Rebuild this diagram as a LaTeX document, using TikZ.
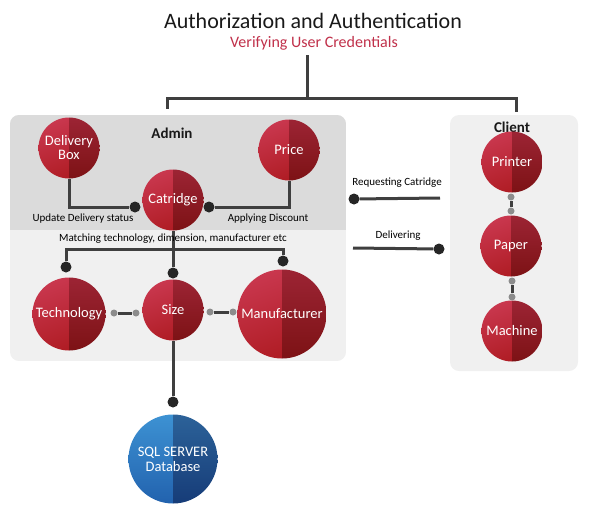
\documentclass[tikz,border=0pt]{standalone}
\usepackage{fontspec}
\setmainfont{Carlito}
\definecolor{lnc}{HTML}{3F3F3F}
\definecolor{dotc}{HTML}{262626}
\definecolor{gdotc}{HTML}{8C8C8C}
\definecolor{panelA}{HTML}{DBDBDB}
\definecolor{panelB}{HTML}{F0F0F0}
\definecolor{subred}{HTML}{C0304A}
\definecolor{rLt}{HTML}{C9374E}
\definecolor{rLb}{HTML}{AE1B22}
\definecolor{rRt}{HTML}{9C2434}
\definecolor{rRb}{HTML}{7D1215}
\definecolor{bLt}{HTML}{3D92D3}
\definecolor{bLb}{HTML}{2262AE}
\definecolor{bRt}{HTML}{2C6299}
\definecolor{bRb}{HTML}{163C78}
\tikzset{
  ball/.style={circle, inner sep=0pt, minimum size=#1,
    path picture={
      \shade[top color=rLt, bottom color=rLb, shading angle=20]
        (path picture bounding box.south west) rectangle (path picture bounding box.north);
      \shade[top color=rRt, bottom color=rRb]
        (path picture bounding box.north) rectangle (path picture bounding box.south east);
    }},
  bball/.style={circle, inner sep=0pt, minimum size=#1,
    path picture={
      \shade[top color=bLt, bottom color=bLb]
        (path picture bounding box.south west) rectangle (path picture bounding box.north);
      \shade[top color=bRt, bottom color=bRb]
        (path picture bounding box.north) rectangle (path picture bounding box.south east);
    }},
  ctext/.style={text=white, font=\fontsize{14.5}{14}\selectfont, align=center},
  conn/.style={draw=lnc, line width=3pt},
  gconn/.style={draw=lnc, line width=3pt},
  dot/.style={circle, fill=dotc, inner sep=0pt, minimum size=11pt},
  gdot/.style={circle, fill=gdotc, inner sep=0pt, minimum size=7pt},
  small/.style={font=\fontsize{11}{12}\selectfont, text=black},
  head/.style={font=\bfseries\fontsize{15}{16}\selectfont, text=black!90},
}
\begin{document}
\begin{tikzpicture}[x=1pt, y=-1pt]
\useasboundingbox (0,0) rectangle (589,507);
% panels
\begin{scope}
  \clip[rounded corners=9pt] (10,115) rectangle (346,361);
  \fill[panelB] (10,115) rectangle (346,361);
  \fill[panelA] (10,115) rectangle (346,230);
\end{scope}
\fill[panelB, rounded corners=9pt] (450,115) rectangle (578,371);

% title
\node[font=\fontsize{22}{24}\selectfont, text=black!90] (title) at (313,21) {Authorization and Authentication};
\node[font=\fontsize{16}{17}\selectfont, text=subred] (sub) at (314,43) {Verifying User Credentials};
\coordinate (tt) at (307,55);
\coordinate (tm) at (307,98);
\coordinate (tl) at (167,98);
\coordinate (tr) at (516,98);
\coordinate (tlb) at (167,107);
\coordinate (trb) at (516,110);
\draw[conn] (tt) -- (tm);
\draw[conn, line cap=rect] (tlb) -- (tl) -- (tr) -- (trb);

\node[head] (admin) at (172,133) {Admin};
\node[head] (client) at (512,127) {Client};

% admin circles
\node[ball=61pt, label={[ctext]center:Delivery\\Box}] (dbox) at (69,148) {};
\node[ball=61pt, label={[ctext]center:Price}] (price) at (289,150) {};
\node[ball=61pt, label={[ctext]center:Catridge}] (cat) at (173,200) {};

\node[dot] (d1) at (135,207) {};
\node[dot] (d2) at (209,207) {};
\draw[conn] (dbox.south) |- (d1);
\draw[conn] (price.south) |- (d2);
\node[small] (upd) at (83,219) {Update Delivery status};
\node[small] (apd) at (268,219) {Applying Discount};

\node[dot] (dsize) at (173,273) {};
\node[dot] (dtech) at (66,267) {};
\node[dot] (dman) at (283,261) {};
\coordinate (jl) at (66,249);
\coordinate (jr) at (283,249);
\draw[conn] (cat.south) -- (dsize);
\draw[conn] (dtech) -- (jl) -- (jr) -- (dman);
\node[small] (match) at (173,239) {Matching technology, dimension, manufacturer etc};

\node[ball=73pt, label={[ctext]center:Technology}] (tech) at (69,314) {};
\node[ball=61pt, label={[ctext]center:Size}] (size) at (173,310) {};
\node[ball=89pt, label={[ctext]center:Manufacturer}] (man) at (282,314) {};

\node[gdot] (g1) at (114,313) {};
\node[gdot] (g2) at (136,313) {};
\draw[gconn] (g1) -- (g2);
\node[gdot] (g3) at (210,312) {};
\node[gdot] (g4) at (233,312) {};
\draw[gconn] (g3) -- (g4);

\node[dot] (ddb) at (173,402) {};
\draw[conn] (size.south) -- (ddb);
\node[bball=89pt, label={[ctext, font=\fontsize{14.5}{15}\selectfont]center:SQL SERVER\\Database}] (db) at (173,459) {};

% client
\node[ball=61pt, label={[ctext]center:Printer}] (printer) at (512,162) {};
\node[ball=61pt, label={[ctext]center:Paper}] (paper) at (511,246) {};
\node[ball=61pt, label={[ctext]center:Machine}] (machine) at (512,331) {};
\node[gdot] (g5) at (511,197) {};
\node[gdot] (g6) at (511,211) {};
\draw[gconn] (g5) -- (g6);
\node[gdot] (g7) at (512,281) {};
\node[gdot] (g8) at (512,297) {};
\draw[gconn] (g7) -- (g8);

\node[small] (req) at (397,183) {Requesting Catridge};
\node[dot] (rq) at (354,199) {};
\coordinate (rqe) at (440,198);
\draw[conn] (rq) -- (rqe);
\node[small] (del) at (398,236) {Delivering};
\coordinate (dls) at (353,248);
\node[dot] (dl) at (439,249) {};
\draw[conn] (dls) -- (dl);
\end{tikzpicture}
\end{document}
